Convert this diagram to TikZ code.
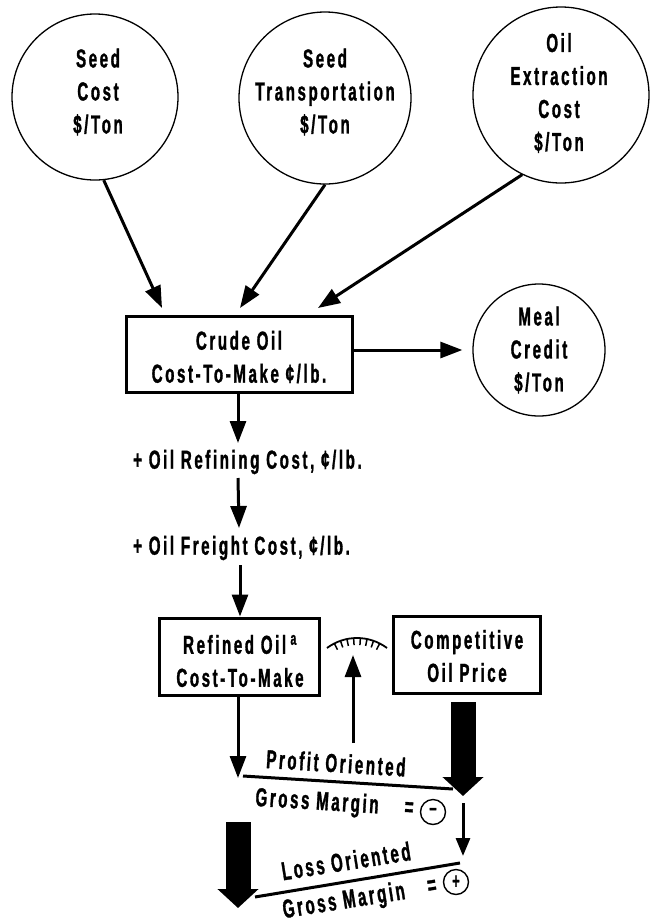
\documentclass[tikz,border=0pt]{standalone}
\usepackage{fontspec}
\setmainfont{Liberation Sans}[FakeStretch=0.58,LetterSpace=10,BoldFeatures={FakeBold=1.2}]
\usetikzlibrary{arrows.meta,calc}
\begin{document}
\begin{tikzpicture}[x=1pt,y=-1pt,
  txt/.style={font=\bfseries\fontsize{26}{33}\selectfont, align=center, inner sep=0pt},
  bubble/.style={draw, circle, line width=1.3pt, inner sep=0pt},
  box/.style={draw, line width=3pt, inner sep=0pt},
  arr/.style={line width=3pt, -{Triangle[length=22pt,width=16pt]}},
  sarr/.style={line width=3pt, -{Triangle[length=18pt,width=14pt]}},
  fatarr/.style={line width=25pt, -{Triangle[length=19pt,width=40pt]}},
  bar/.style={line width=3pt},
  sign/.style={draw, circle, line width=1.4pt, minimum size=25pt, inner sep=0pt, font=\bfseries\fontsize{22}{22}\selectfont}]
\useasboundingbox (0,0) rectangle (650,922);

% input circles
\node[bubble, minimum size=166pt] (c1) at (95,97) {};
\node[txt] (t1) at (98,92) {Seed\\Cost\\\$/Ton};
\node[bubble, minimum size=172pt] (c2) at (325,98) {};
\node[txt] (t2) at (325,92) {Seed\\Transportation\\\$/Ton};
\node[bubble, minimum size=176pt] (c3) at (561,95) {};
\node[txt] (t3) at (559,93) {Oil\\Extraction\\Cost\\\$/Ton};
\node[bubble, minimum size=132pt] (meal) at (539,350) {};
\node[txt] (t4) at (539,350) {Meal\\Credit\\\$/Ton};

% crude oil box
\node[box, minimum width=226pt, minimum height=76pt] (crude) at (239,354) {};
\node[txt] (tcrude) at (239,357) {Crude Oil\\Cost-To-Make ¢/lb.};

\coordinate (e1) at (162,308);
\coordinate (e2) at (240,308);
\coordinate (e3) at (318,308);
\draw[arr] (c1.-84) -- (e1);
\draw[arr] (c2.-90) -- (e2);
\draw[arr] (c3.-116) -- (e3);
\draw[arr, shorten >=10pt] (crude.east |- 0,350) -- (meal.west |- 0,350);

% cost additions
\node[txt, anchor=west] (refc) at (133,462) {+ Oil Refining Cost, ¢/lb.};
\node[txt, anchor=west] (frc) at (133,548) {+ Oil Freight Cost, ¢/lb.};
\coordinate (r1) at (238,443);
\coordinate (r2) at (238,478);
\coordinate (r3) at (239,528);
\coordinate (r4) at (240,565);
\draw[arr] (crude.south -| r1) -- (r1);
\draw[arr] (r2) -- (r3);

% refined & competitive boxes
\node[box, minimum width=160pt, minimum height=77pt] (refined) at (239,656.5) {};
\node[txt] (tref) at (240,661) {Refined Oil\,\textsuperscript{a}\\Cost-To-Make};
\node[box, minimum width=147pt, minimum height=77pt] (comp) at (466.5,654.5) {};
\node[txt] (tcomp) at (467,656) {Competitive\\Oil Price};
\draw[arr] (r4) -- (refined.north -| r4);

% gauge
\coordinate (gc) at (357,688);
\draw[line width=1.8pt] ($(gc)+(126.87:50pt)$) arc[start angle=126.87, end angle=53.13, radius=50pt];
\foreach \a in {63,70.7,78.4,86.1,93.9,101.6,109.3,117}
  \draw[line width=1.5pt] ($(gc)+(\a:50pt)$) -- ($(gc)+(\a:43pt)$);
\coordinate (g1) at (353,743);
\coordinate (g2) at (353,655);
\draw[arr] (g1) -- (g2);

% profit oriented
\coordinate (p1) at (238,778);
\draw[arr] (refined.south -| p1) -- (p1);
\coordinate (f1) at (463,702);
\coordinate (f2) at (463,796);
\draw[fatarr] (f1) -- (f2);
\coordinate (pl1) at (243,776);
\coordinate (pl2) at (453,789);
\draw[bar] (pl1) -- (pl2);
\node[txt, rotate=-3.5] (tpo) at (336,763) {Profit Oriented};
\node[txt, rotate=-3.5] (tgm1) at (317,803) {Gross Margin};
\node[txt, rotate=-3.5] (eq1) at (409,809) {=};
\node[sign] (minus) at (433,812) {\raisebox{1pt}{–}};

% loss oriented
\coordinate (s1) at (463,803);
\coordinate (s2) at (463,856);
\draw[sarr] (s1) -- (s2);
\coordinate (f3) at (238,822);
\coordinate (f4) at (238,908);
\draw[fatarr] (f3) -- (f4);
\coordinate (ll1) at (255,897);
\coordinate (ll2) at (460,863);
\draw[bar] (ll1) -- (ll2);
\node[txt, rotate=9] (tlo) at (346,861) {Loss Oriented};
\node[txt, rotate=9] (tgm2) at (344,902) {Gross Margin};
\node[txt, rotate=9] (eq2) at (432,887) {=};
\node[sign] (plus) at (456,882) {+};
\end{tikzpicture}
\end{document}
